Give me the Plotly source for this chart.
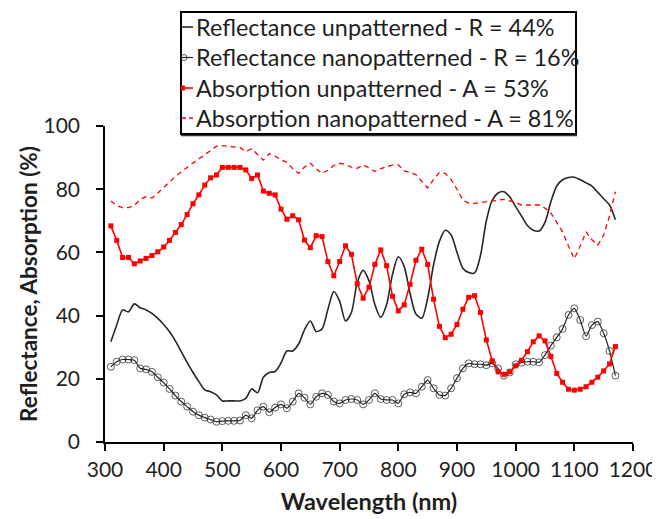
import plotly.graph_objects as go

# ---------------- data ----------------
wavelength = list(range(310, 1180, 10))

refl_unpatterned = [
    31.7, 37.0, 41.8, 41.2, 43.7, 42.5, 41.8, 40.7, 39.1, 37.2,
    34.9, 32.0, 28.6, 25.2, 22.0, 19.1, 16.5, 15.9, 14.9, 13.0,
    13.0, 13.0, 13.0, 13.8, 16.8, 15.6, 20.5, 22.0, 22.3, 25.0,
    28.8, 28.8, 31.0, 35.5, 38.3, 35.0, 35.8, 42.0, 47.6, 44.5,
    38.3, 41.0, 50.5, 54.3, 51.0, 43.5, 39.4, 43.5, 53.0, 58.6,
    55.5, 47.0, 40.5, 39.2, 45.5, 56.0, 63.5, 67.0, 65.5, 60.0,
    55.0, 53.6, 53.5, 59.0, 70.0, 76.5, 78.8, 79.2, 77.5, 74.5,
    71.5, 68.5, 67.0, 66.8, 69.5, 76.0, 81.0, 83.0, 83.7, 83.8,
    83.0, 82.0, 81.0, 79.0, 77.0, 75.0, 70.3,
]

refl_nanopatterned = [
    23.8, 25.4, 26.1, 26.1, 25.9, 23.3, 23.0, 22.2, 20.5, 18.8,
    16.8, 14.7, 12.8, 11.2, 9.6, 8.5, 7.7, 7.1, 6.4, 6.6,
    6.7, 6.7, 6.8, 8.5, 7.5, 10.0, 11.2, 9.4, 10.9, 11.9,
    10.7, 12.8, 15.4, 14.0, 11.9, 14.3, 15.4, 14.9, 12.8, 12.2,
    13.3, 13.6, 13.3, 11.9, 13.3, 15.4, 13.6, 13.3, 13.3, 12.2,
    15.1, 15.7, 15.4, 17.5, 19.6, 17.0, 14.9, 14.7, 17.0, 20.2,
    23.3, 24.9, 24.6, 24.6, 24.3, 24.9, 23.3, 21.0, 22.0, 24.6,
    25.1, 25.4, 25.4, 25.2, 27.5, 30.5, 33.1, 35.8, 40.2, 42.3,
    38.6, 33.5, 37.0, 38.1, 34.4, 28.8, 21.0,
]

abs_unpatterned = [
    68.4, 63.8, 58.4, 58.4, 56.4, 57.3, 58.1, 59.0, 60.2, 61.7,
    63.8, 66.3, 68.8, 72.0, 75.4, 78.2, 81.3, 83.6, 84.5, 86.9,
    86.9, 86.9, 86.9, 86.1, 83.4, 84.5, 79.4, 78.7, 78.2, 73.7,
    70.5, 71.6, 70.3, 63.9, 61.5, 65.3, 65.0, 57.1, 52.6, 57.1,
    62.1, 59.4, 50.1, 45.5, 49.0, 56.2, 60.8, 55.8, 46.1, 41.5,
    43.4, 49.9, 57.5, 61.0, 56.2, 45.2, 36.6, 33.0, 34.1, 37.2,
    42.0, 45.8, 46.3, 41.0, 32.3, 25.7, 22.2, 21.4, 22.2, 24.1,
    25.9, 28.6, 31.7, 33.6, 32.0, 27.1, 21.7, 18.9, 16.7, 16.4,
    16.7, 17.5, 18.9, 20.5, 22.5, 24.7, 30.2,
]

abs_nanopatterned = [
    76.3, 74.8, 74.2, 74.2, 74.8, 76.8, 77.6, 77.2, 78.8, 80.6,
    82.3, 84.0, 85.5, 87.0, 88.3, 89.6, 91.0, 92.4, 93.6, 93.8,
    93.5, 93.4, 93.2, 91.9, 92.8, 91.0, 89.2, 91.3, 90.5, 89.3,
    88.5, 86.5, 85.0, 87.0, 88.2, 86.5, 85.0, 86.0, 87.5, 88.2,
    87.8, 87.0, 86.6, 87.7, 86.8, 85.6, 86.5, 87.1, 87.6, 87.7,
    85.8, 85.3, 84.6, 82.5, 80.4, 83.0, 85.3, 85.0, 83.0, 80.0,
    76.5, 75.6, 75.5, 75.8, 76.0, 76.1, 76.5, 76.8, 76.3, 75.8,
    75.0, 74.9, 75.0, 75.0, 74.0, 72.5, 69.5, 66.5, 62.0, 58.0,
    62.0, 66.5, 64.0, 62.3, 65.5, 71.5, 79.2,
]

series_names = [
    "Reflectance unpatterned - R = 44%",
    "Reflectance nanopatterned - R = 16%",
    "Absorption unpatterned - A = 53%",
    "Absorption nanopatterned - A = 81%",
]

x_ticks = list(range(300, 1201, 100))
y_ticks = list(range(0, 101, 20))

# ---------------- styling ----------------
FONT = "Lato"
TXT = "#1f1f1f"
BLACK = "#262626"
RED = "#ff0000"

fig = go.Figure()

fig.add_trace(go.Scatter(
    x=wavelength, y=refl_unpatterned, name=series_names[0], mode="lines",
    line=dict(color=BLACK, width=1.6, shape="spline", smoothing=0.8),
))
fig.add_trace(go.Scatter(
    x=wavelength, y=refl_nanopatterned, name=series_names[1], mode="lines+markers",
    line=dict(color=BLACK, width=1.2, shape="spline", smoothing=0.6),
    marker=dict(symbol="circle-open", size=7, color="rgba(40,40,40,0.75)",
                line=dict(width=1, color="rgba(40,40,40,0.75)")),
))
fig.add_trace(go.Scatter(
    x=wavelength, y=abs_unpatterned, name=series_names[2], mode="lines+markers",
    line=dict(color=RED, width=1.6),
    marker=dict(symbol="square", size=5, color=RED),
))
fig.add_trace(go.Scatter(
    x=wavelength, y=abs_nanopatterned, name=series_names[3], mode="lines",
    line=dict(color=RED, width=1.3, dash="5px,4px"),
))

# ---------------- layout geometry (page pixels) ----------------
OFF = 8                      # the page body margin
W, H = 660 - OFF, 519 - OFF  # figure size so that it fits the window
L, R_, T, B = 105, 633, 126, 442   # plot area in page pixels


def px(xp):
    return (xp - L) / (R_ - L)


def py(yp):
    return (B - yp) / (B - T)


shapes = []
annotations = []
shapes.append(dict(type="rect", xref="paper", yref="paper",
                   x0=px(181), x1=px(576), y0=py(134), y1=py(12),
                   line=dict(color="black", width=2), fillcolor="white",
                   layer="above"))
shapes.append(dict(type="line", xref="paper", yref="paper",
                   x0=px(181), x1=px(577), y0=py(135.5), y1=py(135.5),
                   line=dict(color="#333333", width=1.5), layer="above"))
row_y = [27, 57.5, 88, 118]
sample_styles = [
    dict(color=BLACK, width=1.6),
    dict(color=BLACK, width=1.2),
    dict(color=RED, width=1.6),
    dict(color=RED, width=1.3, dash="4px,3px"),
]
for i, name in enumerate(series_names):
    yy = row_y[i]
    shapes.append(dict(type="line", xref="paper", yref="paper",
                       x0=px(182), x1=px(193), y0=py(yy), y1=py(yy),
                       line=sample_styles[i], layer="above"))
    annotations.append(dict(xref="paper", yref="paper", x=px(193.5), y=py(yy - 0.5),
                            xanchor="left", yanchor="middle", showarrow=False,
                            text=name, font=dict(family=FONT, size=23.4, color=TXT)))
# partial markers at the clipped left edge of the legend samples
shapes.append(dict(type="circle", xref="paper", yref="paper",
                   x0=px(181), x1=px(187), y0=py(row_y[1] + 3), y1=py(row_y[1] - 3),
                   line=dict(color="rgba(40,40,40,0.75)", width=1), layer="above"))
shapes.append(dict(type="rect", xref="paper", yref="paper",
                   x0=px(181), x1=px(185), y0=py(row_y[2] + 2.5), y1=py(row_y[2] - 2.5),
                   line=dict(width=0), fillcolor=RED, layer="above"))

fig.update_layout(
    width=W, height=H,
    margin=dict(l=L - OFF, r=W - (R_ - OFF), t=T - OFF, b=H - (B - OFF),
                pad=0, autoexpand=False),
    paper_bgcolor="white", plot_bgcolor="white",
    showlegend=False,
    font=dict(family=FONT, color=TXT),
    shapes=shapes, annotations=annotations,
    xaxis=dict(
        range=[300, 1200], tickvals=x_ticks, ticktext=[str(v) for v in x_ticks],
        automargin=False,
        showgrid=False, zeroline=False, showline=True, linecolor="black", linewidth=1.5,
        ticks="outside", ticklen=7, tickwidth=1.5, tickcolor="black",
        tickfont=dict(family=FONT, size=21, color=TXT), ticklabelstandoff=1,
        title=dict(text="<b>Wavelength (nm)</b>", standoff=14,
                   font=dict(family=FONT, size=23.5, color=TXT)),
    ),
    yaxis=dict(
        range=[0, 100], tickvals=y_ticks, ticktext=[str(v) for v in y_ticks],
        automargin=False,
        showgrid=False, zeroline=False, showline=True, linecolor="black", linewidth=1.5,
        ticks="outside", ticklen=7, tickwidth=1.5, tickcolor="black",
        tickfont=dict(family=FONT, size=21, color=TXT), ticklabelstandoff=12,
        title=dict(text="<b>Reflectance, Absorption (%)</b>", standoff=0,
                   font=dict(family=FONT, size=22.5, color=TXT)),
    ),
)

fig.write_html("out.html")
